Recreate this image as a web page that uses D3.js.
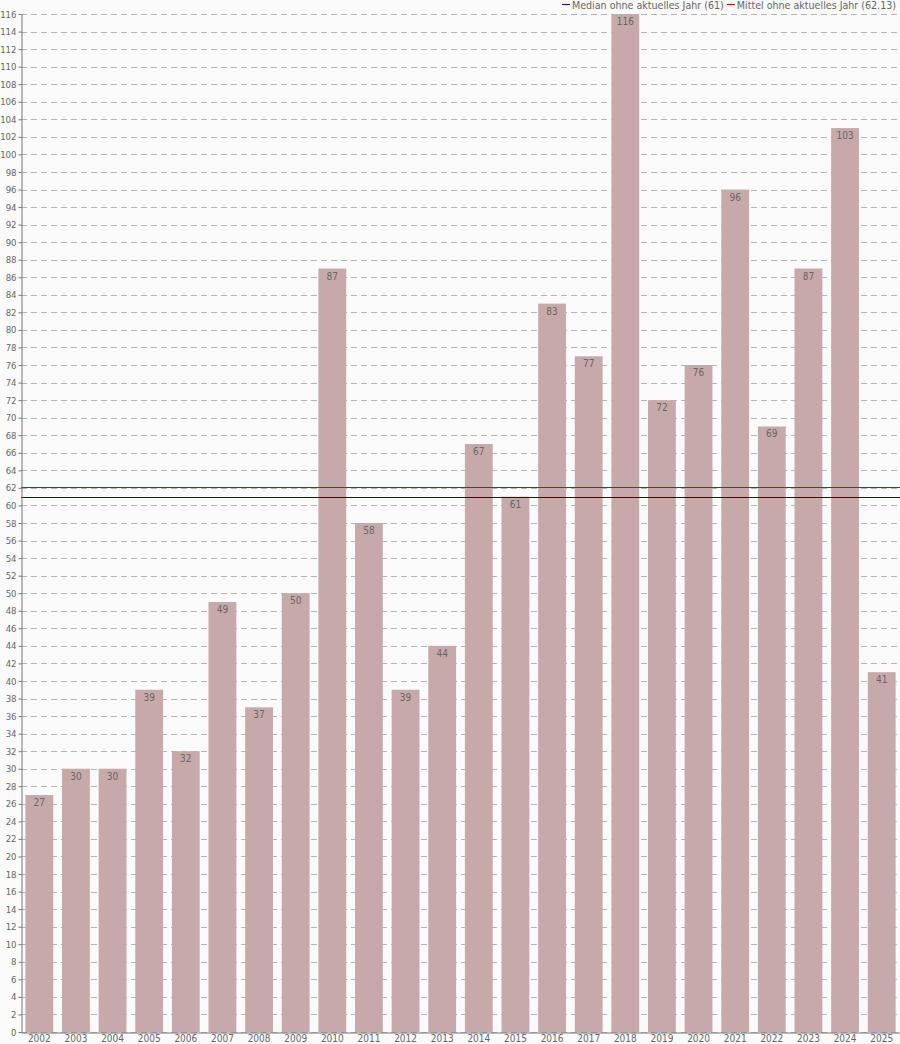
<!DOCTYPE html>
<html><head><meta charset="utf-8">
<script src="https://cdn.jsdelivr.net/npm/d3@7"></script>
<style>
html,body{margin:0;padding:0;background:#fafafa;}
svg{display:block;font-family:"DejaVu Sans Condensed","DejaVu Sans",sans-serif;}
</style></head><body>
<svg id="c" width="900" height="1044"></svg>
<script>
const years = ["2002","2003","2004","2005","2006","2007","2008","2009","2010","2011","2012","2013","2014","2015","2016","2017","2018","2019","2020","2021","2022","2023","2024","2025"];
const counts = [27,30,30,39,32,49,37,50,87,58,39,44,67,61,83,77,116,72,76,96,69,87,103,41];
const medianValue = 61;
const meanValue = 62.13;
const yTicks = d3.range(0, 117, 2);
const legendItems = [
  {label: "Median ohne aktuelles Jahr (61)", color: "#0000cc"},
  {label: "Mittel ohne aktuelles Jahr (62.13)", color: "#dd0000"}
];

const W = 900, H = 1044;
const m = {left: 21, right: 0, top: 14, bottom: 12};
const svg = d3.select("#c");
svg.append("rect").attr("width", W).attr("height", H).attr("fill", "#fafafa");

const x = d3.scaleBand().domain(years).range([m.left, W - m.right]).paddingInner(0.24).paddingOuter(0.12);
const y = d3.scaleLinear().domain([0, 116]).range([H - m.bottom, m.top]);

// grid
svg.append("g").selectAll("line").data(yTicks).join("line")
  .attr("x1", m.left).attr("x2", W - m.right)
  .attr("y1", d => Math.round(y(d)) + 0.5).attr("y2", d => Math.round(y(d)) + 0.5)
  .attr("stroke", "#b4b4b4").attr("stroke-dasharray", "6,4").attr("stroke-width", 1);

// bars
svg.append("g").selectAll("rect").data(counts).join("rect")
  .attr("x", (d, i) => x(years[i])).attr("width", x.bandwidth())
  .attr("y", d => y(d)).attr("height", d => y(0) - y(d))
  .attr("fill", "#c8a9aa");

// value labels
svg.append("g").selectAll("text").data(counts).join("text")
  .attr("x", (d, i) => x(years[i]) + x.bandwidth() / 2)
  .attr("y", d => y(d) + 11)
  .attr("text-anchor", "middle").attr("font-size", 10).attr("fill", "#666")
  .text(d => d);

// reference lines
svg.append("line").attr("x1", m.left).attr("x2", W).attr("y1", Math.round(y(meanValue)) + 0.5).attr("y2", Math.round(y(meanValue)) + 0.5)
  .attr("stroke", legendItems[1].color).attr("stroke-width", 1);
svg.append("line").attr("x1", m.left).attr("x2", W).attr("y1", Math.round(y(medianValue)) + 0.5).attr("y2", Math.round(y(medianValue)) + 0.5)
  .attr("stroke", legendItems[0].color).attr("stroke-width", 1);

// y axis
const yAxis = svg.append("g").attr("transform", `translate(${m.left + 0.5},0)`)
  .call(d3.axisLeft(y).tickValues(yTicks).tickSize(3).tickPadding(2).tickSizeOuter(0));
yAxis.select(".domain").attr("stroke", "#777");
yAxis.selectAll(".tick line").attr("stroke", "#777");
yAxis.selectAll("text").attr("font-size", 9.5).attr("fill", "#666").attr("font-family", "DejaVu Sans Condensed");

// x axis
const xAxis = svg.append("g").attr("transform", `translate(0,${H - m.bottom + 0.5})`)
  .call(d3.axisBottom(x).tickSize(0).tickSizeOuter(0));
xAxis.select(".domain").attr("stroke", "#777");
xAxis.selectAll("text").attr("font-size", 10).attr("fill", "#666").attr("dy", "0.6em").attr("font-family", "DejaVu Sans Condensed");

// legend
const lg = svg.append("g").attr("font-size", 10.6).attr("fill", "#666");
let xr = W - 4;
for (let i = legendItems.length - 1; i >= 0; i--) {
  const t = lg.append("text").attr("x", xr).attr("y", 9).attr("text-anchor", "end").attr("fill", "#666").text(legendItems[i].label);
  const w = t.node().getComputedTextLength();
  const lx = xr - w - 2;
  lg.append("line").attr("x1", lx - 8).attr("x2", lx).attr("y1", 4.5).attr("y2", 4.5).attr("stroke", legendItems[i].color);
  xr = lx - 11;
}
</script></body></html>
